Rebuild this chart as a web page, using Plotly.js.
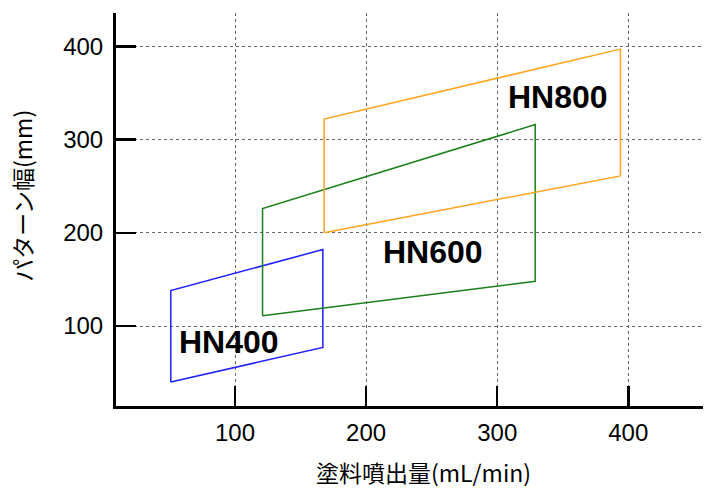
<!DOCTYPE html>
<html>
<head>
<meta charset="utf-8">
<script src="https://cdn.plot.ly/plotly-3.0.1.min.js"></script>
<style>html,body{margin:0;padding:0;background:#fff;}#chart{width:708px;height:490px;}</style>
</head>
<body>
<div id="chart"></div>
<script>
// Data (flow rate mL/min, pattern width mm)
const hn400X = [51, 51, 167, 167, 51];
const hn400Y = [40, 138, 182, 77, 40];
const hn600X = [121, 121, 329, 329, 121];
const hn600Y = [111, 226, 316, 148, 111];
const hn800X = [168, 168, 394, 394, 168];
const hn800Y = [200, 322, 397, 261, 200];

const seriesNames = ["HN400", "HN600", "HN800"];
const seriesColors = ["#1f1fff", "#1a801a", "#ffa41c"];
// label anchor points (left edge, vertical middle) in data units
const labelX = [56, 211, 307];
const labelY = [83, 179, 346];

const tickVals = [100, 200, 300, 400];
const tickText = ["100", "200", "300", "400"];
const xTitle = "塗料噴出量(mL/min)";
const yTitle = "パターン幅(mm)";

const xs = [hn400X, hn600X, hn800X];
const ys = [hn400Y, hn600Y, hn800Y];

const traces = seriesNames.map((n, i) => ({
  type: "scatter",
  mode: "lines",
  name: n,
  x: xs[i],
  y: ys[i],
  line: {color: seriesColors[i], width: 1.5},
  hoverinfo: "skip"
}));

const annotations = seriesNames.map((n, i) => ({
  x: labelX[i], y: labelY[i], xref: "x", yref: "y",
  text: "<b>" + n + "</b>", showarrow: false,
  xanchor: "left", yanchor: "middle",
  font: {family: "Liberation Sans, Arial, sans-serif", size: 32, color: "#000"}
}));

annotations.push({
  xref: "paper", yref: "paper", x: 0.523, y: -0.168,
  xanchor: "center", yanchor: "middle", showarrow: false,
  text: xTitle,
  font: {family: "Noto Sans CJK JP, sans-serif", size: 23, color: "#000"}
});
annotations.push({
  xref: "paper", yref: "paper", x: -0.16, y: 0.535,
  xanchor: "center", yanchor: "middle", showarrow: false, textangle: -90,
  text: yTitle,
  font: {family: "Noto Sans CJK JP, sans-serif", size: 23, color: "#000"}
});

const axisCommon = {
  tickvals: tickVals,
  ticktext: tickText,
  ticks: "inside",
  ticklen: 20,
  tickwidth: 2.5,
  tickcolor: "#000",
  showline: true,
  linecolor: "#000",
  linewidth: 3,
  showgrid: true,
  gridcolor: "#666",
  griddash: "dot",
  gridwidth: 1,
  zeroline: false,
  tickfont: {family: "Liberation Sans, Arial, sans-serif", size: 24, color: "#000"},
  fixedrange: true
};

const layout = {
  width: 708,
  height: 490,
  margin: {l: 116, r: 5, t: 13, b: 84, pad: 0},
  paper_bgcolor: "#fff",
  plot_bgcolor: "#fff",
  showlegend: false,
  xaxis: Object.assign({}, axisCommon, {range: [9.2, 457], ticklabelstandoff: 3}),
  yaxis: Object.assign({}, axisCommon, {range: [14.2, 435.7], ticklabelstandoff: 5}),
  annotations: annotations
};

Plotly.newPlot("chart", traces, layout, {displayModeBar: false, staticPlot: true});
</script>
</body>
</html>
